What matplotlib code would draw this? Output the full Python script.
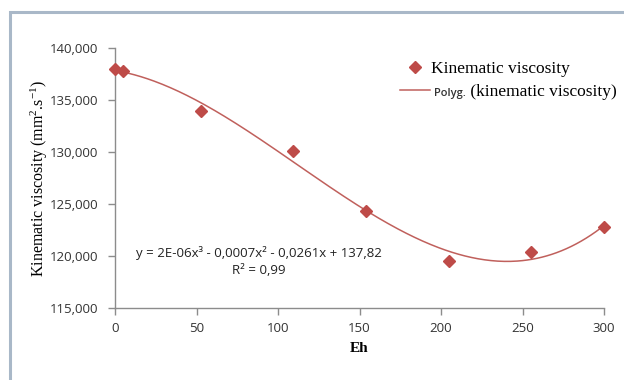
import numpy as np
import matplotlib.pyplot as plt
from matplotlib.patches import Rectangle

# data
eh = [0, 5, 53, 109, 154, 205, 255, 300]
viscosity = [137.98, 137.75, 133.95, 130.05, 124.35, 119.55, 120.35, 122.75]

y_ticks = [115, 120, 125, 130, 135, 140]
y_tick_labels = ['115,000', '120,000', '125,000', '130,000', '135,000', '140,000']
x_ticks = [0, 50, 100, 150, 200, 250, 300]

equation = 'y = 2E-06x³ - 0,0007x² - 0,0261x + 137,82'
r2_text = 'R² = 0,99'

marker_color = '#be4b48'
line_color = '#c0605c'
axis_color = '#8c8c8c'
serif = 'Liberation Serif'
sans = 'Open Sans'

plt.rcParams['mathtext.fontset'] = 'custom'
plt.rcParams['mathtext.rm'] = serif
plt.rcParams['mathtext.it'] = serif + ':italic'


def main():
    fig = plt.figure(figsize=(6.24, 3.8), dpi=100)

    # light blue-gray frame around the chart area
    frame = Rectangle((10 / 624, -0.05), 1.1, 1 - 12 / 380 + 0.05,
                      transform=fig.transFigure, fill=False,
                      edgecolor='#a9b8c8', linewidth=2.2, clip_on=False)
    fig.patches.append(frame)

    ax = fig.add_axes([115 / 624, 1 - 308 / 380, (604 - 115) / 624, (308 - 48) / 380])

    # cubic trend line fitted through the points
    coef = np.polyfit(eh, viscosity, 3)
    xs = np.linspace(0, 300, 300)
    ax.plot(xs, np.polyval(coef, xs), color=line_color, linewidth=1.1,
            label=' ' * 9 + '(kinematic viscosity)')
    ax.plot(eh, viscosity, linestyle='none', marker='D', markersize=6.5,
            color=marker_color, label='Kinematic viscosity', clip_on=False, zorder=3)

    ax.set_xlim(0, 300)
    ax.set_ylim(115, 140)
    ax.set_xticks(x_ticks)
    ax.set_yticks(y_ticks)
    ax.set_yticklabels(y_tick_labels)
    for side in ['top', 'right']:
        ax.spines[side].set_visible(False)
    for side in ['left', 'bottom']:
        ax.spines[side].set_color(axis_color)
        ax.spines[side].set_linewidth(1.0)
    ax.tick_params(colors=axis_color, length=5, width=1.0, labelcolor='#333333',
                   labelsize=9.5)
    ax.tick_params(axis='x', pad=5)
    ax.tick_params(axis='y', pad=7)
    for lab in ax.get_xticklabels() + ax.get_yticklabels():
        lab.set_family(sans)

    ax.set_xlabel('Eh', family=serif, fontweight='bold', fontsize=11, labelpad=5)
    ax.set_ylabel('Kinematic viscosity (mm$^{2}$.s$^{-1}$)', family=serif,
                  fontsize=11.5, labelpad=0)

    ax.text(88, 120.3, equation, family=sans, fontsize=9.5, color='#222222',
            ha='center', va='center')
    ax.text(88, 118.65, r2_text, family=sans, fontsize=9.5, color='#222222',
            ha='center', va='center')

    handles, labels = ax.get_legend_handles_labels()
    leg = ax.legend(handles[::-1], labels[::-1], loc='upper left',
                    bbox_to_anchor=(0.583, 0.95), frameon=False,
                    prop={'family': serif, 'size': 12.5}, handlelength=1.7,
                    handletextpad=0.1, labelspacing=0.4, borderaxespad=0,
                    borderpad=0)
    # small sans "Polyg." prefix in front of the trend line label
    ax.annotate('Polyg.', xy=(0, 0.42), xycoords=leg.get_texts()[1],
                xytext=(2, 0), textcoords='offset points', family=sans,
                fontsize=8, fontweight='semibold', color='#333333',
                ha='left', va='center', zorder=10)

    fig.savefig('out.png', dpi=100)


if __name__ == "__main__":
    main()
